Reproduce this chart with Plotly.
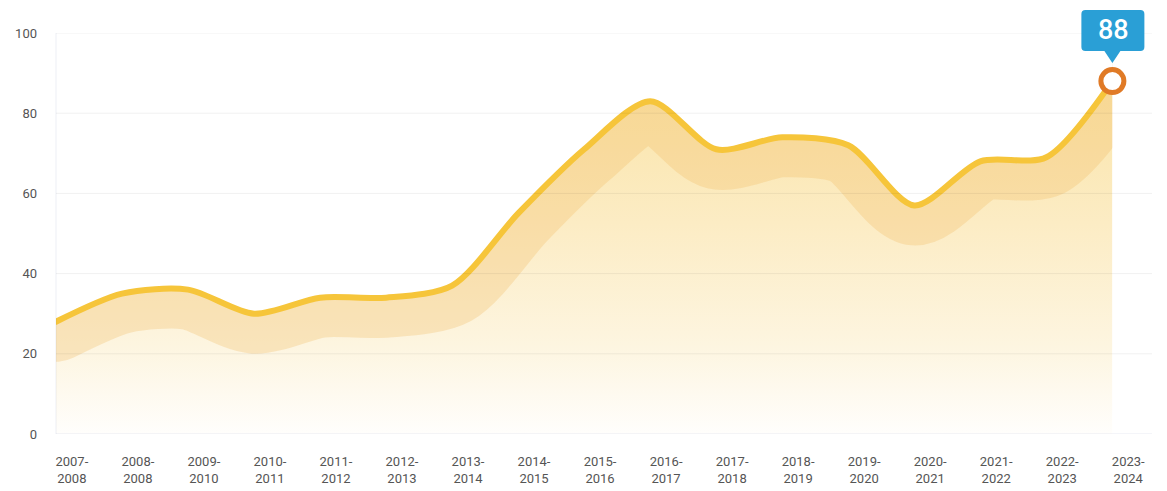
import plotly.graph_objects as go

seasons = ["2007-<br>2008", "2008-<br>2008", "2009-<br>2010", "2010-<br>2011", "2011-<br>2012",
           "2012-<br>2013", "2013-<br>2014", "2014-<br>2015", "2015-<br>2016", "2016-<br>2017",
           "2017-<br>2018", "2018-<br>2019", "2019-<br>2020", "2020-<br>2021", "2021-<br>2022",
           "2022-<br>2023", "2023-<br>2024"]
values = [28, 35, 36, 30, 34, 34, 37, 55, 71, 83, 71, 74, 72, 57, 68, 69, 88]
y_ticks = [0, 20, 40, 60, 80, 100]

x = list(range(len(values)))
last = len(values) - 1
x_max = 16.6
y_max = y_ticks[-1]
spline = dict(shape="spline", smoothing=0.8)

fig = go.Figure()
# dummy trace to hold the labelled axes
fig.add_trace(go.Scatter(x=[0], y=[0], mode="markers", marker=dict(opacity=0),
                         hoverinfo="skip", showlegend=False, xaxis="x", yaxis="y"))
# gradient area under the line
fig.add_trace(go.Scatter(
    x=x, y=values, mode="lines", line=dict(width=0, **spline), fill="tozeroy",
    fillgradient=dict(type="vertical", start=0, stop=88,
                      colorscale=[[0, "#fffefc"], [0.25, "#fdf5e0"], [0.6, "#fcecc4"], [1, "#fae4a8"]]),
    hoverinfo="skip", showlegend=False, xaxis="x2", yaxis="y2"))
# wide soft shadow stroke along the line
fig.add_trace(go.Scatter(
    x=x, y=values, mode="lines", line=dict(width=80, color="rgba(240,185,95,0.29)", **spline),
    hoverinfo="skip", showlegend=False, xaxis="x2", yaxis="y2"))
# white cover for the part above the line
fig.add_trace(go.Scatter(
    x=x, y=[y_max] * len(x), mode="lines", line=dict(width=0),
    hoverinfo="skip", showlegend=False, xaxis="x2", yaxis="y2"))
fig.add_trace(go.Scatter(
    x=x, y=values, mode="lines", line=dict(width=0, **spline), fill="tonexty", fillcolor="white",
    hoverinfo="skip", showlegend=False, xaxis="x2", yaxis="y2"))
# main line
fig.add_trace(go.Scatter(
    x=x, y=values, mode="lines", line=dict(width=6, color="#f6c53a", **spline),
    showlegend=False, xaxis="x2", yaxis="y2"))
# last point marker
fig.add_trace(go.Scatter(
    x=[x[last]], y=[values[last]], mode="markers",
    marker=dict(size=23, color="white", line=dict(width=5, color="#e07a26")),
    showlegend=False, cliponaxis=False, xaxis="x2", yaxis="y2"))

# grid lines drawn above the fills
for t in y_ticks:
    fig.add_shape(type="line", xref="paper", x0=0, x1=1, yref="y", y0=t, y1=t, layer="above",
                  line=dict(color="rgba(40,60,140,0.1)" if t == 0 else "rgba(0,0,0,0.06)", width=1))
fig.add_shape(type="line", xref="paper", x0=0, x1=0, yref="paper", y0=0, y1=1, layer="above",
              line=dict(color="rgba(40,60,140,0.08)", width=1))

box = "M -31 30 L -8 30 L 0 18 L 8 30 L 28 30 Q 32 30 32 34 L 32 67 Q 32 71 28 71 L -27 71 Q -31 71 -31 67 L -31 34 Q -31 30 -27 30 Z"
fig.add_shape(type="path", xref="paper", yref="paper", xsizemode="pixel", ysizemode="pixel",
              xanchor=x[last] / x_max, yanchor=values[last] / y_max, path=box,
              fillcolor="#2a9fd6", line=dict(width=0))
fig.add_annotation(x=x[last] / x_max, y=values[last] / y_max, xref="paper", yref="paper",
                   xanchor="center", yanchor="middle",
                   text=str(values[last]), showarrow=False,
                   xshift=1, yshift=51, font=dict(family="Roboto", size=27, color="white", weight=500))

fig.update_layout(
    width=1167, height=491, margin=dict(l=56, r=15, t=33, b=57, autoexpand=False),
    paper_bgcolor="white", plot_bgcolor="rgba(0,0,0,0)",
    font=dict(family="Roboto", size=13, color="#555"),
    xaxis=dict(range=[0, x_max], domain=[0, 1], tickvals=[i + 0.24 for i in x], ticktext=seasons,
               automargin=False, showgrid=False, zeroline=False, showline=False,
               ticks="", ticklabelstandoff=18, tickfont=dict(size=13, color="#555")),
    yaxis=dict(range=[0, y_max], tickvals=y_ticks, showgrid=False, automargin=False,
               zeroline=False, showline=False,
               ticks="", ticklabelstandoff=18, tickfont=dict(size=13, color="#555")),
    xaxis2=dict(range=[0, last], domain=[0, last / x_max], anchor="y2", visible=False),
    yaxis2=dict(range=[0, y_max], domain=[0, 1], anchor="x2", visible=False),
)

post = """
document.body.style.margin='0';document.body.style.padding='0';document.body.style.overflow='hidden';
var gd = document.getElementsByClassName('plotly-graph-div')[0];
function roundCaps(){ gd.querySelectorAll('path.js-line').forEach(function(p){
  p.style.strokeLinecap='round'; p.style.strokeLinejoin='round'; }); }
roundCaps();
gd.on('plotly_afterplot', roundCaps);
"""
fig.write_html("out.html", config={"displayModeBar": False}, post_script=post)
